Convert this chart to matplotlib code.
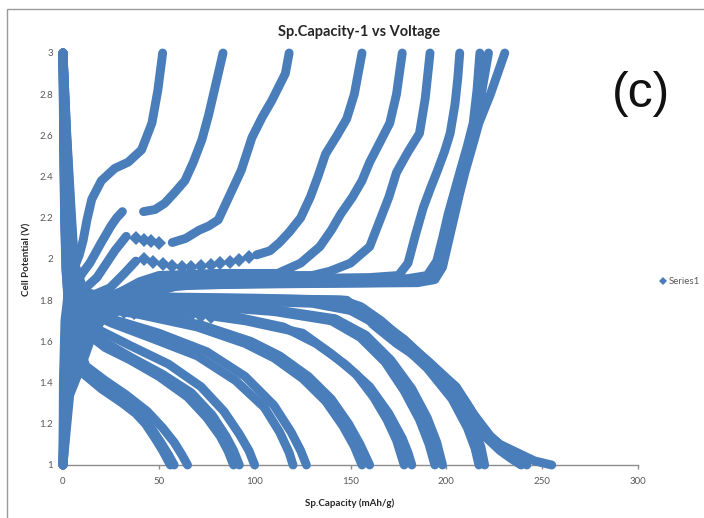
import matplotlib
matplotlib.use("Agg")
import matplotlib.pyplot as plt
from matplotlib.lines import Line2D
from matplotlib.patches import Rectangle

# ---------------- data (capacity mAh/g, voltage V) ----------------
ch1 = [(0,1.00),(0.2,1.40),(1,1.70),(3,1.86),(6,1.96),(8.5,2.02),(10.5,2.09),(12.5,2.19),(15,2.29),(20,2.38),
       (27,2.44),(34,2.47),(41,2.53),(46.4,2.66),(49.5,2.82),(52,3.00)]
ch2a = [(0,1.00),(0.4,1.40),(1.5,1.70),(5,1.86),(10,1.93),(14,1.98),(20,2.08),(25,2.16),(28,2.20),(31,2.23)]
ch2b = [(42,2.23),(48,2.24),(53,2.27),(58,2.32),(63.6,2.38),(68,2.47),(72.5,2.58),(76,2.70),(79,2.82),(83.5,3.00)]
ch3a = [(0,1.00),(0.7,1.40),(2.5,1.68),(8,1.82),(13,1.87),(17.7,1.91),(22,1.97),(27,2.04),(33,2.11)]
ch3_beads = [(38,2.10),(42,2.09),(46,2.085),(50,2.08)]
ch3b = [(57,2.08),(64,2.10),(71,2.14),(76,2.16),(81,2.19),(86,2.29),(93,2.43),(98.6,2.59),(104,2.69),
        (109,2.77),(116,2.90),(118,3.00)]
ch4a = [(0,1.00),(1,1.40),(4,1.64),(10,1.77),(17,1.83),(24.5,1.86),(32,1.93),(38,1.99)]
ch4_beads = [(42,2.00),(47,1.985),(52,1.975),(57,1.965),(62,1.96),(67,1.96),(72,1.965),(77,1.97),(82,1.98),
             (87,1.985),(92,1.995),(97,2.01)]
ch4b = [(101,2.02),(108,2.04),(113,2.08),(118,2.13),(124,2.20),(129,2.30),(133,2.40),(137,2.51),(143,2.60),
        (148,2.68),(152,2.80),(156,3.00)]
ch5 = [(0,1.00),(1.2,1.40),(5,1.62),(12,1.74),(22,1.81),(30,1.84),(40,1.89),(50,1.92),(80,1.93),(100,1.93),
       (112,1.93),(124,1.98),(134,2.06),(140,2.14),(145,2.22),(151,2.30),(156,2.38),(160,2.47),(165,2.56),
       (170.5,2.66),(174,2.80),(177,3.00)]
ch6 = [(0,1.00),(1.5,1.40),(6,1.62),(14,1.74),(25,1.82),(35,1.86),(45,1.90),(55,1.915),(90,1.92),(130,1.92),
       (139,1.94),(150,1.98),(160,2.06),(165,2.18),(170,2.30),(174,2.42),(180,2.52),(186,2.61),(189,2.78),
       (191.5,3.00)]
ch7 = [(0,1.00),(2,1.40),(7,1.60),(16,1.73),(28,1.81),(40,1.86),(52,1.89),(70,1.90),(120,1.905),(160,1.91),
       (175,1.92),(180,1.98),(184,2.12),(188,2.25),(192,2.35),(195,2.42),(199,2.52),(202,2.61),(204.5,2.75),
       (206,2.88),(207,3.00)]
ch8 = [(0,1.00),(2.5,1.38),(8,1.58),(18,1.72),(31,1.80),(44,1.85),(56,1.88),(80,1.89),(140,1.895),(180,1.905),
       (190,1.92),(195,1.99),(198,2.10),(201,2.22),(204,2.32),(207,2.42),(211,2.55),(214,2.66),(216,2.82),
       (217.5,3.00)]
ch9 = [(0,1.00),(3,1.36),(9,1.55),(20,1.70),(35,1.79),(48,1.84),(60,1.87),(100,1.88),(160,1.885),(186,1.89),
       (193,1.91),(197,1.97),(200,2.10),(203,2.22),(206,2.32),(209,2.43),(213,2.56),(216,2.66),(219,2.84),
       (222,3.00)]
ch10 = [(0,1.00),(3.5,1.34),(9.5,1.48),(16,1.65),(24,1.76),(38,1.83),(50,1.86),(70,1.875),(120,1.88),
        (185,1.885),(194,1.90),(198,1.96),(201,2.08),(204,2.20),(207,2.32),(210,2.43),(214,2.56),(217,2.66),
        (223,2.80),(230.5,3.00)]

dis1 = [(0,3.00),(0.3,2.60),(0.8,2.20),(1.5,1.95),(3,1.75),(6,1.58),(11,1.44),(20,1.37),(31,1.30),(38,1.25),
        (43,1.20),(48,1.13),(52,1.07),(56,1.00)]
dis2 = [(0,3.00),(0.3,2.60),(0.9,2.20),(1.6,1.95),(3,1.76),(6,1.59),(11,1.45),(20,1.385),(31,1.32),(40,1.25),
        (46,1.18),(51,1.11),(55,1.05),(58,1.00)]
dis3 = [(0,3.00),(0.4,2.60),(1,2.20),(1.8,1.95),(3.5,1.77),(7,1.60),(12,1.48),(22,1.41),(33,1.34),(44,1.26),
        (52,1.18),(58,1.11),(62,1.05),(65,1.00)]
dis4 = [(0,3.00),(0.5,2.60),(1.2,2.20),(2,1.97),(4,1.80),(9,1.68),(15,1.62),(22,1.57),(35,1.51),(50,1.43),
        (65,1.33),(75,1.23),(82,1.14),(86,1.07),(89,1.00)]
dis5 = [(0,3.00),(0.5,2.60),(1.3,2.20),(2.2,1.97),(4.5,1.80),(10,1.69),(16,1.63),(23,1.59),(36,1.52),(52,1.44),
        (67,1.35),(78,1.24),(85,1.14),(89,1.07),(92,1.00)]
dis6 = [(0,3.00),(0.6,2.60),(1.5,2.20),(2.5,1.98),(5,1.82),(10,1.72),(20,1.65),(35,1.58),(55,1.49),(72,1.38),
        (84,1.26),(92,1.15),(97,1.07),(100,1.00)]
dis7 = [(0,3.00),(0.7,2.60),(1.7,2.20),(3,1.98),(6,1.83),(12,1.75),(25,1.69),(45,1.62),(70,1.53),(90,1.41),
        (105,1.28),(113,1.16),(118,1.06),(120,1.00)]
dis8 = [(0,3.00),(0.8,2.60),(2,2.20),(3.2,1.98),(6.5,1.83),(12,1.76),(25,1.71),(50,1.64),(75,1.55),(95,1.43),
        (110,1.29),(119,1.16),(124,1.07),(127,1.00)]
dis9 = [(0,3.00),(0.9,2.60),(2.2,2.20),(3.5,1.98),(7,1.83),(14,1.77),(40,1.73),(70,1.67),(95,1.59),(110,1.52),
        (125,1.42),(137,1.31),(146,1.19),(152,1.09),(156,1.00)]
dis10 = [(0,3.00),(1,2.60),(2.4,2.20),(3.8,1.98),(7.5,1.83),(15,1.78),(40,1.74),(72,1.68),(98,1.60),(113,1.53),
         (128,1.43),(140,1.32),(149,1.20),(155,1.10),(160,1.00)]
dis11a = [(0,3.00),(1.1,2.60),(2.6,2.20),(4,1.98),(8,1.84),(12,1.77)]
dis11_beads = [(17,1.745),(22,1.745),(27,1.745),(32,1.745),(37,1.74),(42,1.74),(47,1.74),(52,1.735),
               (57,1.735),(62,1.73),(67,1.73),(72,1.725),(77,1.72)]
dis11b = [(80,1.72),(95,1.70),(110,1.67),(125,1.64),(140,1.54),(153,1.44),(162,1.33),(169,1.22),(174,1.12),
          (178,1.00)]
dis12 = [(0,3.00),(1.2,2.60),(2.8,2.20),(4.2,1.98),(8,1.84),(16,1.79),(50,1.76),(90,1.72),(115,1.67),(132,1.59),
         (147,1.49),(160,1.38),(170,1.25),(177,1.13),(180,1.06),(182,1.00)]
dis13 = [(0,3.00),(1.3,2.60),(3,2.20),(4.5,1.98),(8.5,1.84),(20,1.80),(60,1.78),(110,1.745),(140,1.70),(155,1.62),
         (168,1.50),(178,1.36),(186,1.22),(191,1.10),(194,1.00)]
dis14 = [(0,3.00),(1.4,2.60),(3.2,2.20),(4.8,1.98),(9,1.84),(20,1.805),(60,1.785),(110,1.755),(142,1.71),
         (158,1.63),(171,1.51),(182,1.37),(190,1.23),(195,1.11),(198,1.00)]
dis15 = [(0,3.00),(1.5,2.60),(3.4,2.20),(5,1.98),(9,1.84),(20,1.81),(80,1.80),(130,1.785),(150,1.75),(162,1.69),
         (175,1.60),(190,1.47),(203,1.32),(211,1.18),(215,1.08),(217,1.00)]
dis16 = [(0,3.00),(1.6,2.60),(3.6,2.20),(5.3,1.98),(9.5,1.84),(20,1.81),(80,1.80),(132,1.79),(152,1.76),
         (165,1.70),(178,1.61),(193,1.48),(206,1.33),(214,1.19),(218,1.09),(220,1.00)]
dis17 = [(0,3.00),(1.8,2.60),(4,2.20),(5.6,1.98),(10,1.84),(20,1.815),(100,1.805),(145,1.80),(155,1.77),
         (165,1.70),(176,1.61),(190,1.50),(203,1.38),(212,1.25),(220,1.14),(228,1.07),(234,1.03),(239,1.00)]
dis18 = [(0,3.00),(1.9,2.60),(4.2,2.20),(5.8,1.98),(10.5,1.84),(20,1.815),(100,1.808),(146,1.80),(156,1.765),
         (166,1.70),(177,1.61),(191,1.50),(205,1.38),(214,1.25),(223,1.14),(231,1.07),(237,1.03),(242,1.00)]
dis19 = [(0,3.00),(2,2.60),(4.5,2.20),(6,1.98),(11,1.84),(20,1.82),(100,1.81),(148,1.80),(155,1.75),(162,1.68),
         (174,1.59),(190,1.49),(205,1.38),(212,1.28),(219,1.17),(228,1.10),(237,1.06),(246,1.02),(255,1.00)]

solid_curves = [ch1, ch2a, ch2b, ch3a, ch3b, ch4a, ch4b, ch5, ch6, ch7, ch8, ch9, ch10,
                dis1, dis2, dis3, dis4, dis5, dis6, dis7, dis8, dis9, dis10, dis11a, dis11b,
                dis12, dis13, dis14, dis15, dis16, dis17, dis18, dis19]
bead_curves = [ch3_beads, ch4_beads, dis11_beads]

x_ticks = [0, 50, 100, 150, 200, 250, 300]
y_ticks = [1, 1.2, 1.4, 1.6, 1.8, 2, 2.2, 2.4, 2.6, 2.8, 3]
y_tick_labels = ["1", "1.2", "1.4", "1.6", "1.8", "2", "2.2", "2.4", "2.6", "2.8", "3"]

# ---------------- figure ----------------
W, H = 704, 518
BLUE = "#4A7EBB"
fig = plt.figure(figsize=(W / 100, H / 100), dpi=100)
ax = fig.add_axes([63 / W, 1 - 465 / H, 575 / W, 412 / H])

for c in solid_curves:
    xs = [p[0] for p in c]
    ys = [p[1] for p in c]
    ax.plot(xs, ys, color=BLUE, lw=6.4, solid_capstyle="round", solid_joinstyle="round",
            clip_on=False, zorder=3)
for c in bead_curves:
    xs = [p[0] for p in c]
    ys = [p[1] for p in c]
    ax.plot(xs, ys, ls="none", color=BLUE, marker="D", markersize=7.5, markeredgewidth=0,
            clip_on=False, zorder=3)

ax.set_xlim(0, 300)
ax.set_ylim(1, 3)
ax.set_xticks(x_ticks)
ax.set_xticklabels([str(t) for t in x_ticks])
ax.set_yticks(y_ticks)
ax.set_yticklabels(y_tick_labels)
for s in ["top", "right", "left"]:
    ax.spines[s].set_visible(False)
ax.spines["bottom"].set_color("#8C8C8C")
ax.spines["bottom"].set_linewidth(1.0)
ax.spines["bottom"].set_zorder(1)
ax.tick_params(axis="x", direction="out", length=3, width=1, color="#8C8C8C", pad=6,
               labelsize=7, labelcolor="#595959")
ax.tick_params(axis="y", length=0, pad=7, labelsize=7, labelcolor="#595959")
for lab in ax.get_xticklabels() + ax.get_yticklabels():
    lab.set_fontfamily("Lato")

fig.text(359 / W, 1 - 32 / H, "Sp.Capacity-1 vs Voltage", ha="center", va="center",
         fontsize=10.5, fontweight="bold", family="Lato", color="#262626")
fig.text(350 / W, 1 - 503 / H, "Sp.Capacity (mAh/g)", ha="center", va="center",
         fontsize=7, fontweight="bold", family="Lato", color="#262626")
fig.text(27 / W, 1 - 259 / H, "Cell Potential (V)", ha="center", va="center", rotation=90,
         fontsize=7, fontweight="bold", family="Lato", color="#262626")
fig.text(641 / W, 1 - 94 / H, "(c)", ha="center", va="center", fontsize=36,
         family="Liberation Sans", color="#111111")

handle = Line2D([], [], ls="none", marker="D", color=BLUE, markersize=4.5, markeredgewidth=0)
leg = fig.legend([handle], ["Series1"], loc="center left", bbox_to_anchor=(656 / W, 1 - 282 / H),
                 frameon=False, handlelength=0.5, handletextpad=0.3, borderpad=0,
                 prop={"family": "Lato", "size": 7})
for t in leg.get_texts():
    t.set_color("#595959")

fig.add_artist(Rectangle((7 / W, -0.2), 1.5, (1 - 9 / H) + 0.2, transform=fig.transFigure,
                         fill=False, edgecolor="#9A9A9A", lw=1.0))

fig.savefig("out.png", dpi=100)
